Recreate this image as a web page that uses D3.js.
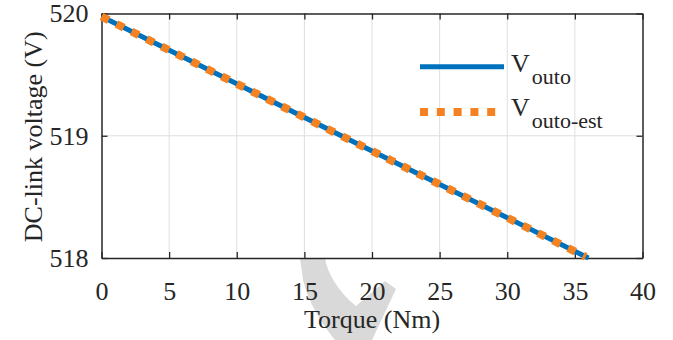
<!DOCTYPE html>
<html>
<head>
<meta charset="utf-8">
<script src="https://cdn.jsdelivr.net/npm/d3@7"></script>
<style>
  html, body { margin: 0; padding: 0; background: #fff; }
  svg { display: block; }
  svg text { font-family: "Liberation Serif", "Times New Roman", "DejaVu Serif", serif; }
</style>
</head>
<body>
<svg id="chart" width="673" height="340"></svg>
<script>
// ── Data ──
const torque = [0, 10, 20, 30, 36];
const vOuto = [519.975, 519.425, 518.875, 518.33, 518.0];
const torqueEst = [0, 10, 20, 30, 35.8];
const vOutoEst = [519.975, 519.425, 518.875, 518.33, 518.01];
const xTicks = [0, 5, 10, 15, 20, 25, 30, 35, 40];
const yTicks = [518, 519, 520];
const legendLabels = [["V", "outo"], ["V", "outo-est"]];

const colors = { outo: "#0072bd", est: "#f58220", axis: "#262626", grid: "#dfdfdf", mark: "#d9d9d9" };
const font = "Liberation Serif";

const svg = d3.select("#chart");
const plotLeft = 101.5, plotRight = 642.5, plotTop = 13.5, plotBottom = 258;

const x = d3.scaleLinear().domain([0, 40]).range([plotLeft, plotRight]);
const y = d3.scaleLinear().domain([518, 520]).range([plotBottom, plotTop]);

// ── faint watermark under the x axis ──
svg.append("path")
    .attr("d", "M300,258 L325,258 C327,272 338,292 356,306 L385,281 L396,289 L372,340 L335,340 C322,324 308,302 303,280 Z")
    .style("fill", colors.mark);

// ── grid ──
svg.append("g").selectAll("line")
    .data(xTicks.slice(1, -1))
    .join("line")
    .attr("x1", d => x(d)).attr("x2", d => x(d))
    .attr("y1", plotTop).attr("y2", plotBottom)
    .style("stroke", colors.grid).style("stroke-width", 1);

svg.append("g").selectAll("line")
    .data(yTicks.slice(1, -1))
    .join("line")
    .attr("x1", plotLeft).attr("x2", plotRight)
    .attr("y1", d => y(d)).attr("y2", d => y(d))
    .style("stroke", colors.grid).style("stroke-width", 1);

// ── axes (box with inward ticks on all sides) ──
const tickLen = 6;
const fmt = d3.format("d");
const axisBottom = d3.axisBottom(x).tickValues(xTicks).tickFormat(fmt).tickSizeInner(-tickLen).tickSizeOuter(0).tickPadding(24);
const axisTop = d3.axisTop(x).tickValues(xTicks).tickSizeInner(-tickLen).tickSizeOuter(0).tickFormat("");
const axisLeft = d3.axisLeft(y).tickValues(yTicks).tickFormat(fmt).tickSizeInner(-tickLen).tickSizeOuter(0).tickPadding(13);
const axisRight = d3.axisRight(y).tickValues(yTicks).tickSizeInner(-tickLen).tickSizeOuter(0).tickFormat("");

function styleAxis(g) {
    g.attr("font-family", font).attr("font-size", 26);
    g.select(".domain").style("stroke", colors.axis).style("stroke-width", 1.5);
    g.selectAll(".tick line").style("stroke", colors.axis).style("stroke-width", 1.3);
    g.selectAll(".tick text").style("fill", colors.axis);
}

svg.append("g").attr("transform", `translate(0,${plotBottom})`).call(axisBottom).call(styleAxis);
svg.append("g").attr("transform", `translate(0,${plotTop})`).call(axisTop).call(styleAxis);
svg.append("g").attr("transform", `translate(${plotLeft},0)`).call(axisLeft).call(styleAxis);
svg.append("g").attr("transform", `translate(${plotRight},0)`).call(axisRight).call(styleAxis);

// ── series ──
const line = d3.line().x(d => x(d[0])).y(d => y(d[1]));

svg.append("path")
    .datum(d3.zip(torque, vOuto))
    .attr("d", line)
    .style("fill", "none")
    .style("stroke", colors.outo)
    .style("stroke-width", 5);

svg.append("path")
    .datum(d3.zip(torqueEst, vOutoEst))
    .attr("d", line)
    .style("fill", "none")
    .style("stroke", colors.est)
    .style("stroke-width", 8)
    .style("stroke-dasharray", "8,8.8");

// ── axis labels ──
svg.append("text")
    .attr("x", (plotLeft + plotRight) / 2)
    .attr("y", 328)
    .attr("text-anchor", "middle")
    .attr("font-size", 26)
    .style("fill", colors.axis)
    .text("Torque (Nm)");

svg.append("text")
    .attr("transform", `translate(42,${(plotTop + plotBottom) / 2 + 1}) rotate(-90)`)
    .attr("text-anchor", "middle")
    .attr("font-size", 26)
    .style("fill", colors.axis)
    .text("DC-link voltage (V)");

// ── legend ──
const legend = svg.append("g");
const legendRows = [
    { y: 66.7, color: colors.outo, width: 5, dash: null, textY: 72 },
    { y: 112, color: colors.est, width: 8, dash: "8,8.8", textY: 116 },
];

legendRows.forEach((row, i) => {
    legend.append("line")
        .attr("x1", 420).attr("x2", i === 0 ? 504 : 500)
        .attr("y1", row.y).attr("y2", row.y)
        .style("stroke", row.color)
        .style("stroke-width", row.width)
        .style("stroke-dasharray", row.dash);

    const t = legend.append("text")
        .attr("x", 511)
        .attr("y", row.textY)
        .style("fill", colors.axis);
    t.append("tspan").attr("font-size", 26).text(legendLabels[i][0]);
    t.append("tspan").attr("dx", 2).attr("dy", 12).attr("font-size", 22).text(legendLabels[i][1]);
});
</script>
</body>
</html>
